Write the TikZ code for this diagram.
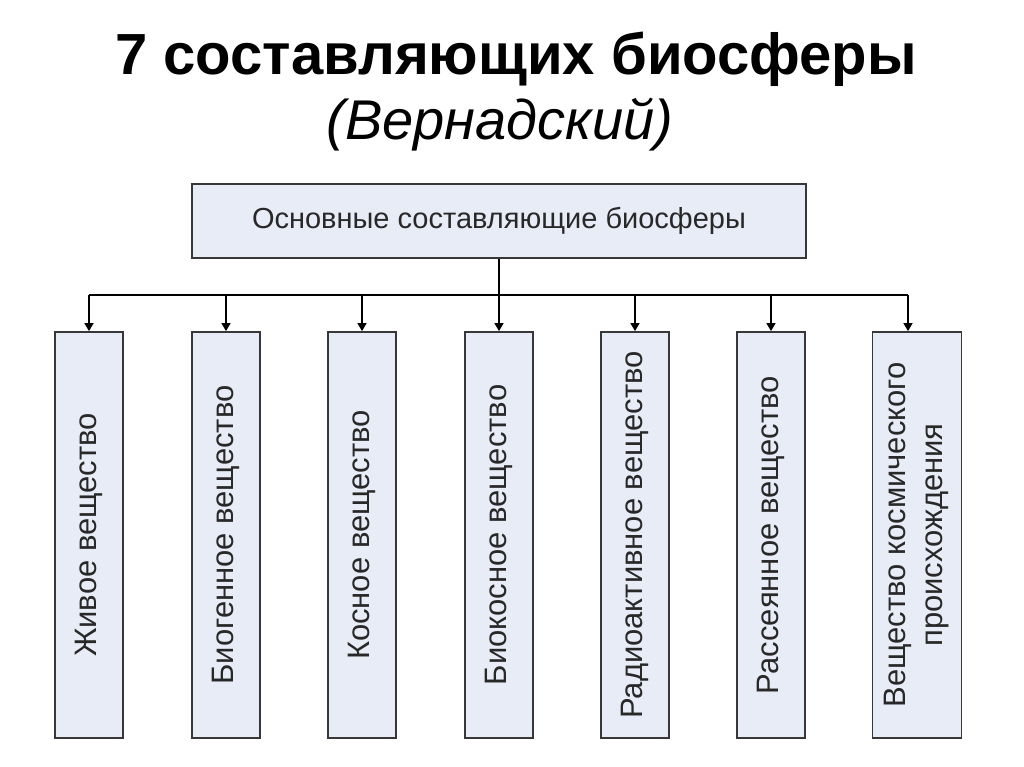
\documentclass[tikz,border=0pt]{standalone}
\usepackage{fontspec}
\setmainfont{Liberation Sans}
\usetikzlibrary{arrows.meta}

\definecolor{boxfill}{RGB}{232,236,246}
\definecolor{boxline}{RGB}{55,55,55}
\definecolor{labeltext}{RGB}{40,40,40}
\tikzset{
  mainbox/.style={draw=boxline, line width=1.8pt, fill=boxfill, text=labeltext,
    minimum width=614pt, minimum height=74pt, inner sep=0pt,
    font=\fontsize{29}{35}\selectfont},
  partbox/.style={mainbox, rotate=90, minimum width=406pt, minimum height=68pt,
    align=center, font=\fontsize{31}{37}\selectfont},
  link/.style={line width=1.4pt}
}

\begin{document}
\begin{tikzpicture}[x=1pt,y=-1pt,>={Triangle[length=8pt,width=9pt]}]
\useasboundingbox (0,0) rectangle (1024,767);
% title
\node[anchor=base,font=\bfseries\fontsize{58}{60}\selectfont] (title) at (516,75) {7 составляющих биосферы};
\node[anchor=base,font=\itshape\fontsize{56}{60}\selectfont] (author) at (500,140) {(Вернадский)};
% main box
\node[mainbox] (main) at (499,221) {Основные составляющие биосферы};
% parts
\node[partbox] (zhivoe) at (89,535) {Живое вещество};
\node[partbox] (biogen) at (226,535) {Биогенное вещество};
\node[partbox] (kosnoe) at (362,535) {Косное вещество};
\node[partbox] (biokos) at (499,535) {Биокосное вещество};
\node[partbox] (radio) at (635,535) {Радиоактивное вещество};
\node[partbox] (rass) at (771,535) {Рассеянное вещество};
\node[partbox, minimum height=89pt] (kosm) at (917,535) {Вещество космического\\происхождения};
% links
\coordinate (bus) at (499,295);
\coordinate (kosmtop) at ([xshift=-9pt]kosm.east);
\draw[link] (bus -| zhivoe.east) -- (bus -| kosmtop);
\draw[link,->] (main.south) -- (biokos.east);
\foreach \part in {zhivoe,biogen,kosnoe,radio,rass}
  \draw[link,->] (bus -| \part.east) -- (\part.east);
\draw[link,->] (bus -| kosmtop) -- (kosmtop);
\end{tikzpicture}
\end{document}
